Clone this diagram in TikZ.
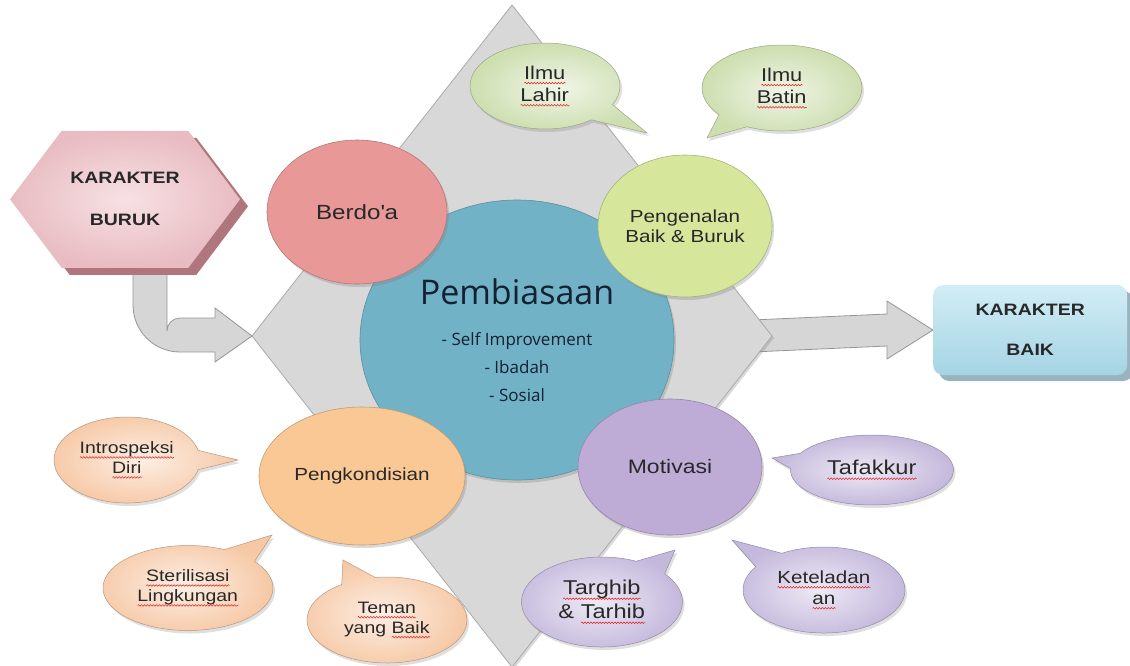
\documentclass[tikz,border=0pt]{standalone}
\usepackage{fontspec}
\setmainfont{Liberation Sans}[FakeStretch=1.18]
\newfontfamily\pembfont{Open Sans}
\usetikzlibrary{shapes.geometric,shapes.callouts,shapes.symbols,shadows,calc,decorations.pathmorphing}

\definecolor{inktext}{RGB}{40,40,40}
\definecolor{pembtext}{RGB}{20,32,52}
\definecolor{spellred}{RGB}{225,30,30}
\definecolor{diamondgray}{RGB}{216,216,216}
\definecolor{diamondline}{RGB}{170,170,170}
\definecolor{arrowgray}{RGB}{214,214,214}
\definecolor{arrowline}{RGB}{150,150,150}
\definecolor{pembblue}{RGB}{114,178,198}
\definecolor{doapink}{RGB}{232,152,150}
\definecolor{kenalgreen}{RGB}{214,230,155}
\definecolor{kondpeach}{RGB}{250,200,148}
\definecolor{motilac}{RGB}{190,172,215}
\definecolor{bubgreen}{RGB}{205,222,175}
\definecolor{bubpeach}{RGB}{246,200,165}
\definecolor{bublilac}{RGB}{196,184,220}
\definecolor{hexpink}{RGB}{232,188,194}
\definecolor{hexlight}{RGB}{247,225,228}
\definecolor{hexshade}{RGB}{175,118,126}
\definecolor{baiktop}{RGB}{210,237,246}
\definecolor{baikbot}{RGB}{165,212,228}
\definecolor{baikshade}{RGB}{130,160,175}

\newsavebox\splbox
\newcommand\spl[1]{\sbox\splbox{#1}\rlap{\usebox\splbox}\tikz[baseline=0pt]\draw[spellred, line width=.5pt,
  decorate, decoration={snake, amplitude=.8pt, segment length=3pt}] (0pt,-4pt) -- (\wd\splbox,-4pt);}
\newcommand\fs[1]{\fontsize{#1}{1.2\dimexpr#1pt\relax}\selectfont}

\tikzset{
  oval/.style={ellipse, fill=#1, draw=#1!78!black, line width=.6pt,
    drop shadow={shadow xshift=2pt, shadow yshift=-3pt, opacity=.3},
    inner sep=0pt, align=center, text=inktext, font=\fontsize{17.5}{20}\selectfont},
  bubble/.style={ellipse callout, inner color=#1!30!white, outer color=#1,
    draw=#1!75!black, line width=.5pt, callout pointer arc=26,
    drop shadow={shadow xshift=2pt, shadow yshift=-3pt, opacity=.25},
    inner sep=0pt, align=center, text=inktext, font=\fontsize{16.5}{20}\selectfont},
  blockarrow/.style={fill=arrowgray, draw=arrowline, line width=.8pt},
  hexbox/.style={signal, signal to=west and east, signal pointer angle=106,
    inner color=hexlight, outer color=hexpink, minimum width=230, minimum height=137,
    drop shadow={shadow xshift=8pt, shadow yshift=-7pt, fill=hexshade, opacity=1},
    align=center, text=inktext, font=\bfseries\fontsize{16.5}{20}\selectfont},
  baikbox/.style={rectangle, rounded corners=10pt, top color=baiktop, bottom color=baikbot,
    minimum width=194, minimum height=90,
    drop shadow={shadow xshift=6pt, shadow yshift=-6pt, fill=baikshade, opacity=.8},
    align=center, text=inktext, font=\bfseries\fontsize{16.5}{20}\selectfont}
}

\begin{document}
\begin{tikzpicture}[x=1pt,y=-1pt]
\useasboundingbox (0,0) rectangle (1130,665);
\coordinate (dtop) at (512,5);
\coordinate (dright) at (772,336);
\coordinate (dbottom) at (512,667);
\coordinate (dleft) at (252,336);
\coordinate (burukbot) at (125,268);
\coordinate (baikwest) at (933,330);

\filldraw[blockarrow] ($(dright)+(-20,-16)$) -- ($(baikwest)+(-46,-16)$) -- ($(baikwest)+(-46,-29)$)
  -- (baikwest) -- ($(baikwest)+(-46,29)$) -- ($(baikwest)+(-46,16)$) -- ($(dright)+(-20,16)$) -- cycle;
\filldraw[fill=diamondgray, draw=diamondline, line width=.8pt, drop shadow={shadow xshift=2pt, shadow yshift=-2pt, opacity=.3}]
  (dtop) -- (dright) -- (dbottom) -- (dleft) -- cycle;
\filldraw[blockarrow] ($(burukbot)+(8,-13)$) -- ($(burukbot)+(8,37)$) arc(180:90:47)
  -- ($(dleft)+(-37,16)$) -- ($(dleft)+(-37,26)$) -- (dleft) -- ($(dleft)+(-37,-28)$) -- ($(dleft)+(-37,-18)$)
  -- ($(burukbot)+(55,50)$) arc(270:180:13) -- ($(burukbot)+(42,-13)$) -- cycle;

\node[ellipse, fill=pembblue, draw=pembblue!80!black, line width=.6pt,
  drop shadow={shadow xshift=2pt, shadow yshift=-3pt, opacity=.3},
  minimum width=314, minimum height=280, inner sep=0pt, align=center,
  text=pembtext, font=\pembfont\fontsize{17}{28}\selectfont] (pemb) at (517,340)
  {{\fontsize{34}{40}\selectfont Pembiasaan}\\[13pt]- Self Improvement\\- Ibadah\\- Sosial};

\node[oval=doapink, minimum width=180, minimum height=144, font=\fs{20.5}] (doa) at (357,212) {Berdo\textquotesingle a};
\node[oval=kenalgreen, minimum width=174, minimum height=142] (kenal) at (685,226) {Pengenalan\\Baik \& Buruk};
\node[oval=kondpeach, minimum width=206, minimum height=138] (kond) at (362,476) {Pengkondisian};
\node[oval=motilac, minimum width=184, minimum height=136, font=\fs{19.5}] (moti) at (670,467) {Motivasi};

\node[bubble=bubgreen, minimum width=150, minimum height=86, font=\fs{18.5}, callout absolute pointer={(647,133)}] (lahir) at (545,86) {\spl{Ilmu}\\\spl{Lahir}};
\node[bubble=bubgreen, minimum width=160, minimum height=86, font=\fs{18.5}, callout absolute pointer={(707,138)}] (batin) at (782,88) {\spl{Ilmu}\\\spl{Batin}};
\node[bubble=bubpeach, minimum width=146, minimum height=86, callout absolute pointer={(238,460)}] (intro) at (127,460) {\spl{Introspeksi}\\\spl{Diri}};
\node[bubble=bubpeach, minimum width=170, minimum height=85, callout absolute pointer={(272,535)}] (steril) at (188,588) {\spl{Sterilisasi}\\\spl{Lingkungan}};
\node[bubble=bubpeach, minimum width=160, minimum height=86, callout absolute pointer={(343,560)}] (teman) at (387,620) {\spl{Teman}\\yang \spl{Baik}};
\node[bubble=bublilac, minimum width=163, minimum height=70, font=\fs{20}, callout absolute pointer={(772,458)}] (tafakkur) at (872,470) {\spl{Tafakkur}};
\node[bubble=bublilac, minimum width=162, minimum height=86, font=\fs{17.5}, callout absolute pointer={(732,540)}] (teladan) at (824,590) {\spl{Keteladan}\\\spl{an}};
\node[bubble=bublilac, minimum width=161, minimum height=90, font=\fs{20}, callout absolute pointer={(675,550)}] (targhib) at (602,602) {\spl{Targhib}\\\& \spl{Tarhib}};

\node[hexbox, anchor=south] (buruk) at (burukbot) {KARAKTER\\[22pt]BURUK};
\node[baikbox, anchor=west] (baik) at (baikwest) {KARAKTER\\[20pt]BAIK};
\end{tikzpicture}
\end{document}
